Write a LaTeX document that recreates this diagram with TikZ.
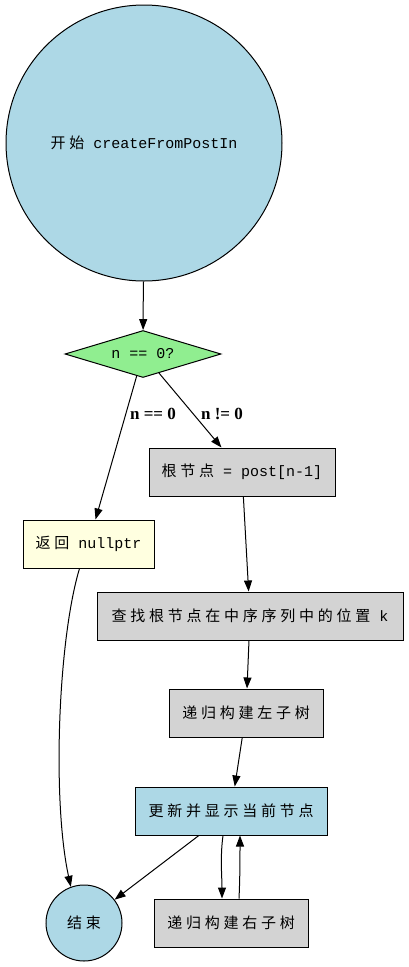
\documentclass[tikz,border=0pt]{standalone}
\usepackage{fontspec}
\usetikzlibrary{shapes.geometric,arrows.meta,calc}
\newfontfamily\cjkf[LetterSpace=25]{Noto Sans CJK SC}
\newfontfamily\monof{Liberation Mono}
\newfontfamily\lblf{Liberation Serif}
\newcommand{\zhT}[1]{{\cjkf #1}}
\newcommand{\enT}[1]{{\monof #1}}
\definecolor{lblue}{HTML}{ADD8E6}
\definecolor{lgreen}{HTML}{90EE90}
\definecolor{lyellow}{HTML}{FFFFE0}
\definecolor{boxgray}{HTML}{D3D3D3}
\begin{document}
\begin{tikzpicture}[x=1pt,y=-1pt,
  base/.style={draw=black, line width=1pt, inner sep=0pt, font=\fontsize{15}{18}\selectfont, text=black},
  procbox/.style={base, rectangle, fill=boxgray, minimum height=48pt},
  roundnode/.style={base, circle, fill=lblue},
  decide/.style={base, diamond, aspect=3.3, fill=lgreen},
  arr/.style={-{Triangle[length=11pt,width=8pt]}, line width=1pt},
  elabel/.style={font=\lblf\bfseries\fontsize{17}{20}\selectfont, inner sep=0pt}]
\useasboundingbox (0,0) rectangle (408,967);
\node[roundnode, minimum size=276pt] (start) at (144,143) {\zhT{开始}\enT{\ createFromPostIn}};
\node[decide, minimum width=156pt, minimum height=47pt] (dia) at (143,354) {\enT{n == 0?}};
\node[procbox, fill=lyellow, minimum width=131pt] (ret) at (88.5,544) {\zhT{返回}\enT{\ nullptr}};
\node[procbox, minimum width=186pt] (root) at (242,472) {\zhT{根节点}\enT{\ = post[n-1]}};
\node[procbox, minimum width=306pt] (find) at (250,616) {\zhT{查找根节点在中序序列中的位置}\enT{\ k}};
\node[procbox, minimum width=154pt] (left) at (246,713) {\zhT{递归构建左子树}};
\node[procbox, fill=lblue, minimum width=192pt] (upd) at (231,811) {\zhT{更新并显示当前节点}};
\node[roundnode, minimum size=76pt] (end) at (84,923) {\zhT{结束}};
\node[procbox, minimum width=154pt] (right) at (231,923) {\zhT{递归构建右子树}};
\node[elabel] (l1) at (153,414) {n == 0};
\node[elabel] (l2) at (222,414) {n != 0};
\draw[arr] (start) -- (dia);
\draw[arr] (dia) -- (ret);
\draw[arr] (dia) -- (root);
\draw[arr] (root) -- (find);
\draw[arr] (find) -- (left);
\draw[arr] (left) -- (upd);
\draw[arr] (upd) -- (end);
\draw[arr] ([xshift=-9pt]ret.south) .. controls (58,640) and (52,800) .. (end.110);
\draw[arr] ([xshift=-8pt]upd.south) .. controls +(-3,22) and +(0,-22) .. ([xshift=-9pt]right.north);
\draw[arr] ([xshift=8pt]right.north) .. controls +(1,-20) and +(0,20) .. ([xshift=9pt]upd.south);
\end{tikzpicture}
\end{document}
